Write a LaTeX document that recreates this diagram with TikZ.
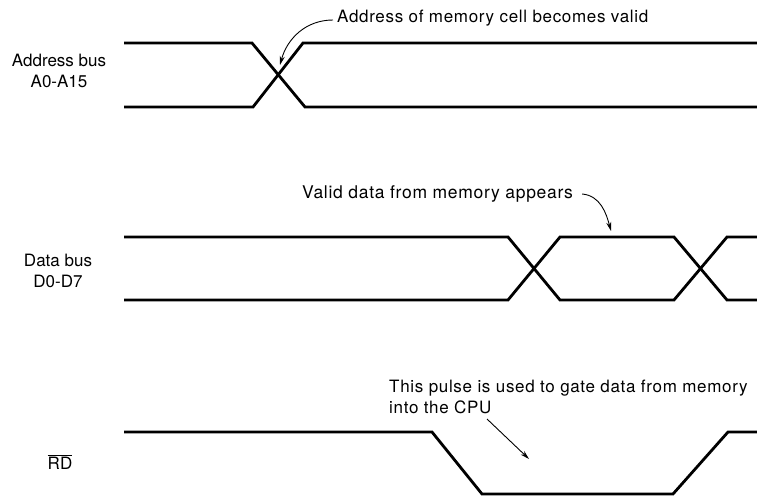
\documentclass[tikz,border=0pt]{standalone}
\usepackage{fontspec}
\setmainfont{TeX Gyre Heros}
\newfontfamily\notefont[LetterSpace=4.0]{TeX Gyre Heros}
\usetikzlibrary{arrows.meta}
\tikzset{
  wave/.style={line width=2.8pt, line join=miter, line cap=butt},
  label/.style={font=\fontsize{17}{21}\selectfont, inner sep=0pt, align=center},
  note/.style={font=\notefont\fontsize{17}{21}\selectfont, inner sep=0pt, align=left},
  pointer/.style={line width=0.9pt, -{Stealth[length=9pt,width=5pt]}}
}
\begin{document}
\begin{tikzpicture}[x=1pt,y=1pt]
\useasboundingbox (0,0) rectangle (757,499);

% signal names (base anchor sits on the last line)
\node[label, anchor=base] (addr) at (59,411) {Address bus\\A0-A15};
\node[label, anchor=base] (data) at (58,212) {Data bus\\D0-D7};
\node[label, anchor=base] (rd)   at (60,30)  {$\overline{\mbox{RD}}$};

% address bus: new address becomes valid
\draw[wave] (124,456) -- (252,456) -- (305,392) -- (757,392);
\draw[wave] (124,392) -- (253,392) -- (303,456) -- (757,456);

% data bus: valid data window
\draw[wave] (124,262) -- (508,262) -- (560,199) -- (674,199) -- (727,262) -- (757,262);
\draw[wave] (124,199) -- (508,199) -- (560,262) -- (674,262) -- (727,199) -- (757,199);

% read strobe, active low
\draw[wave] (124,67) -- (432,67) -- (482,5) -- (673,5) -- (728,67) -- (757,67);

% annotations
\node[note, anchor=base west] (n1) at (337,476) {Address of memory cell becomes valid};
\coordinate (t1) at (280,434);
\draw[pointer] ([xshift=-4pt,yshift=3pt]n1.base west) to[out=180, in=75] (t1);

\node[note, font=\notefont\fontsize{17.5}{21}\selectfont, anchor=base west] (n2) at (302,301) {Valid data from memory appears};
\coordinate (t2) at (611,268);
\draw[pointer] ([xshift=9pt,yshift=4pt]n2.base east) to[out=-5, in=105] (t2);

\node[note, anchor=base west] (n3) at (389,86) {This pulse is used to gate data from memory\\into the CPU};
\coordinate (s3) at (487,80);
\coordinate (t3) at (529,40);
\draw[pointer] (s3) -- (t3);
\end{tikzpicture}
\end{document}
